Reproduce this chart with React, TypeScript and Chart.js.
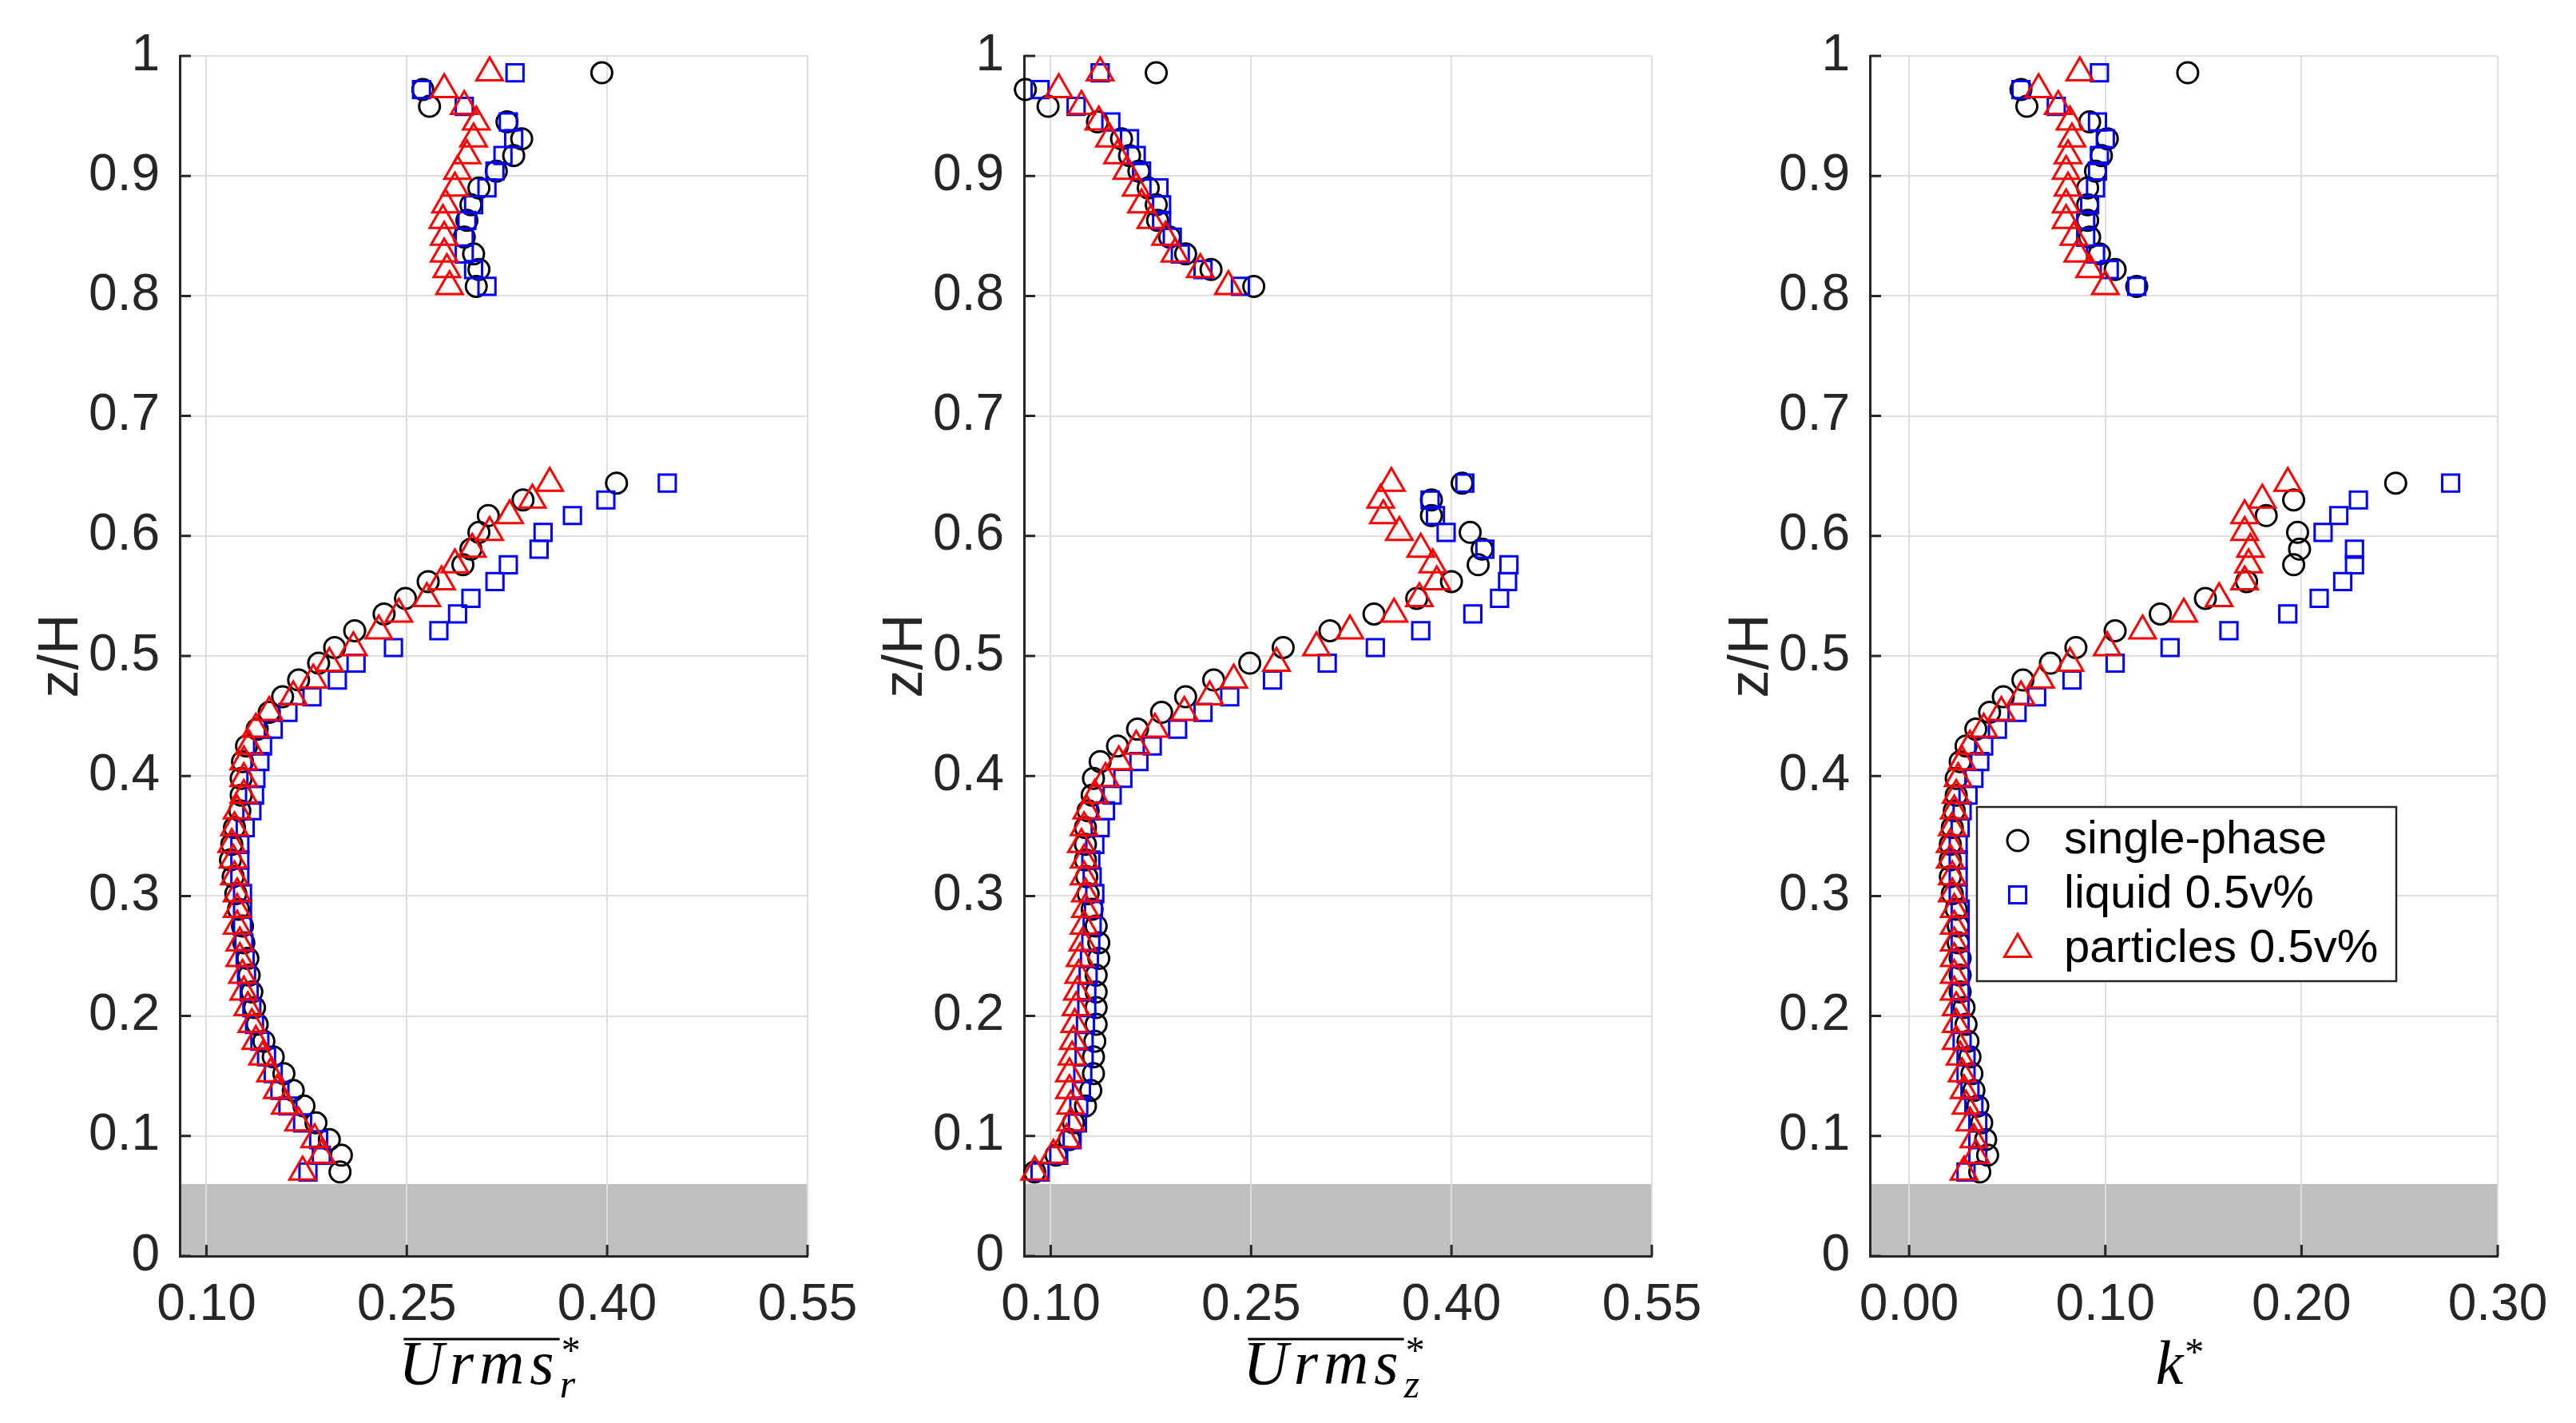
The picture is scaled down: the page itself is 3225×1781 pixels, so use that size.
import { useEffect, useRef } from "react";
import { Chart, registerables } from "chart.js";
import { drawPoint } from "chart.js/helpers";

Chart.register(...registerables);

// measurement heights (z/H), near-wall section and upper section
const zLower = [
  0.070, 0.084, 0.097, 0.111, 0.125, 0.138, 0.152, 0.166, 0.179, 0.193, 0.207,
  0.220, 0.234, 0.248, 0.261, 0.275, 0.289, 0.302, 0.316, 0.330, 0.343, 0.357,
  0.371, 0.384, 0.398, 0.412, 0.425, 0.439, 0.453, 0.466, 0.480, 0.494, 0.507,
  0.521, 0.535, 0.548, 0.562, 0.576, 0.589, 0.603, 0.617, 0.630, 0.644,
];
const zUpper = [
  0.808, 0.822, 0.835, 0.849, 0.863, 0.876, 0.890, 0.904, 0.917, 0.931, 0.945,
  0.958, 0.972, 0.986,
];

// panel 1: radial rms velocity
const urSingleLow = [
  0.200, 0.201, 0.192, 0.182, 0.173, 0.165, 0.158, 0.150, 0.143, 0.138, 0.136,
  0.134, 0.132, 0.131, 0.128, 0.127, 0.124, 0.122, 0.120, 0.118, 0.119, 0.121,
  0.125, 0.126, 0.126, 0.127, 0.130, 0.138, 0.147, 0.157, 0.169, 0.184, 0.196,
  0.211, 0.233, 0.249, 0.266, 0.292, 0.298, 0.304, 0.311, 0.337, 0.407,
];
const urSingleUp = [
  0.302, 0.304, 0.300, 0.293, 0.295, 0.298, 0.304, 0.317, 0.330, 0.336, 0.325,
  0.267, 0.262, 0.396,
];
const urLiquidLow = [
  0.176, 0.186, 0.184, 0.172, 0.161, 0.155, 0.150, 0.145, 0.140, 0.136, 0.134,
  0.132, 0.130, 0.129, 0.128, 0.127, 0.127, 0.127, 0.125, 0.125, 0.125, 0.129,
  0.134, 0.136, 0.137, 0.140, 0.142, 0.150, 0.161, 0.179, 0.198, 0.212, 0.240,
  0.274, 0.288, 0.298, 0.316, 0.326, 0.349, 0.352, 0.374, 0.399, 0.445,
];
const urLiquidUp = [
  0.310, 0.300, 0.293, 0.293, 0.295, 0.300, 0.310, 0.316, 0.322, 0.330, 0.326,
  0.293, 0.261, 0.331,
];
const urPartLow = [
  0.172, 0.186, 0.181, 0.169, 0.159, 0.153, 0.148, 0.142, 0.137, 0.134, 0.131,
  0.128, 0.127, 0.125, 0.125, 0.123, 0.123, 0.123, 0.121, 0.120, 0.119, 0.121,
  0.123, 0.128, 0.128, 0.128, 0.132, 0.137, 0.147, 0.165, 0.180, 0.192, 0.210,
  0.229, 0.244, 0.265, 0.276, 0.286, 0.299, 0.312, 0.327, 0.344, 0.357,
];
const urPartUp = [
  0.282, 0.280, 0.278, 0.278, 0.277, 0.279, 0.286, 0.288, 0.295, 0.300, 0.302,
  0.293, 0.278, 0.312,
];

// panel 2: axial rms velocity
const uzSingleLow = [
  0.088, 0.104, 0.114, 0.117, 0.126, 0.130, 0.132, 0.132, 0.133, 0.134, 0.134,
  0.134, 0.134, 0.136, 0.136, 0.134, 0.131, 0.128, 0.127, 0.126, 0.126, 0.126,
  0.128, 0.131, 0.132, 0.137, 0.150, 0.165, 0.183, 0.201, 0.222, 0.249, 0.274,
  0.309, 0.342, 0.374, 0.400, 0.420, 0.423, 0.414, 0.385, 0.385, 0.408,
];
const uzSingleUp = [
  0.252, 0.220, 0.201, 0.189, 0.180, 0.179, 0.173, 0.166, 0.159, 0.153, 0.135,
  0.098, 0.081, 0.179,
];
const uzLiquidLow = [
  0.092, 0.106, 0.116, 0.120, 0.121, 0.123, 0.124, 0.125, 0.125, 0.126, 0.127,
  0.127, 0.128, 0.129, 0.130, 0.131, 0.132, 0.133, 0.131, 0.130, 0.133, 0.137,
  0.141, 0.146, 0.154, 0.166, 0.176, 0.195, 0.214, 0.234, 0.266, 0.307, 0.343,
  0.377, 0.416, 0.436, 0.442, 0.443, 0.425, 0.396, 0.388, 0.384, 0.410,
];
const uzLiquidUp = [
  0.242, 0.214, 0.197, 0.191, 0.183, 0.183, 0.181, 0.168, 0.164, 0.159, 0.145,
  0.119, 0.092, 0.137,
];
const uzPartLow = [
  0.088, 0.102, 0.112, 0.115, 0.115, 0.114, 0.114, 0.116, 0.117, 0.118, 0.119,
  0.120, 0.121, 0.122, 0.124, 0.125, 0.126, 0.126, 0.125, 0.125, 0.123, 0.125,
  0.127, 0.133, 0.141, 0.151, 0.164, 0.178, 0.200, 0.219, 0.237, 0.269, 0.299,
  0.324, 0.357, 0.376, 0.389, 0.386, 0.377, 0.361, 0.349, 0.347, 0.355,
];
const uzPartUp = [
  0.233, 0.212, 0.193, 0.186, 0.175, 0.168, 0.164, 0.157, 0.150, 0.144, 0.136,
  0.123, 0.106, 0.137,
];

// panel 3: turbulent kinetic energy
const kSingleLow = [
  0.036, 0.040, 0.039, 0.037, 0.035, 0.033, 0.032, 0.031, 0.030, 0.029, 0.028,
  0.026, 0.026, 0.026, 0.025, 0.025, 0.024, 0.022, 0.021, 0.021, 0.021, 0.022,
  0.023, 0.024, 0.024, 0.026, 0.029, 0.034, 0.041, 0.048, 0.058, 0.072, 0.085,
  0.105, 0.128, 0.151, 0.172, 0.196, 0.199, 0.198, 0.182, 0.196, 0.248,
];
const kSingleUp = [
  0.116, 0.105, 0.097, 0.092, 0.091, 0.091, 0.091, 0.095, 0.098, 0.101, 0.092,
  0.060, 0.057, 0.142,
];
const kLiquidLow = [
  0.029, 0.035, 0.035, 0.035, 0.033, 0.031, 0.029, 0.029, 0.027, 0.026, 0.026,
  0.026, 0.026, 0.026, 0.026, 0.026, 0.026, 0.025, 0.025, 0.025, 0.025, 0.026,
  0.027, 0.030, 0.033, 0.036, 0.038, 0.045, 0.055, 0.065, 0.083, 0.105, 0.133,
  0.163, 0.193, 0.209, 0.221, 0.227, 0.227, 0.211, 0.219, 0.229, 0.276,
];
const kLiquidUp = [
  0.116, 0.102, 0.095, 0.090, 0.090, 0.092, 0.095, 0.096, 0.097, 0.100, 0.096,
  0.075, 0.057, 0.097,
];
const kPartLow = [
  0.028, 0.034, 0.033, 0.031, 0.029, 0.028, 0.027, 0.026, 0.024, 0.024, 0.024,
  0.023, 0.023, 0.023, 0.023, 0.023, 0.023, 0.022, 0.022, 0.021, 0.021, 0.022,
  0.023, 0.024, 0.025, 0.027, 0.031, 0.038, 0.047, 0.057, 0.067, 0.082, 0.101,
  0.119, 0.140, 0.158, 0.171, 0.173, 0.174, 0.171, 0.171, 0.180, 0.193,
];
const kPartUp = [
  0.100, 0.092, 0.086, 0.084, 0.080, 0.080, 0.081, 0.080, 0.081, 0.083, 0.082,
  0.076, 0.066, 0.087,
];

const seriesNames = ["single-phase", "liquid 0.5v%", "particles 0.5v%"];
const yTicks = [0, 0.1, 0.2, 0.3, 0.4, 0.5, 0.6, 0.7, 0.8, 0.9, 1];
const urmsTicks = [0.1, 0.25, 0.4, 0.55];
const kTicks = [0, 0.1, 0.2, 0.3];
const wallTop = 0.06;

const SANS = '"Liberation Sans", Arial, Helvetica, sans-serif';
const SERIF = '"Liberation Serif", "Times New Roman", serif';
const INK = "#262626";
const PLOT_TOP = 70;
const PLOT_BOTTOM = 1572;
const AXIS_W = 225;
const PLOT_W = 786;
const PAD_R = 80;
const CANVAS_H = 1781;

const markers = [
  { color: "#000000", style: "circle", radius: 13 },
  { color: "#0000ff", style: "rect", radius: 15 },
  { color: "#ff0000", style: "triangle", radius: 19 },
];

type AxisLabel = { base: string; overline: boolean; sub: string };

type PanelProps = {
  left: number;
  xMin: number;
  xMax: number;
  xTicks: number[];
  digits: number;
  series: { low: number[]; up: number[] }[];
  label: AxisLabel;
  legend?: boolean;
};

function Panel({ left, xMin, xMax, xTicks, digits, series, label, legend }: PanelProps) {
  const canvasRef = useRef<HTMLCanvasElement | null>(null);
  const chartRef = useRef<Chart | null>(null);

  useEffect(() => {
    const canvas = canvasRef.current;
    if (!canvas) return;

    chartRef.current?.destroy();

    const wallPlugin = {
      id: "wall",
      beforeDraw(chart: Chart) {
        const { ctx, chartArea } = chart;
        const y0 = chart.scales.y.getPixelForValue(wallTop);
        ctx.save();
        ctx.fillStyle = "#bfbfbf";
        ctx.fillRect(chartArea.left, y0, chartArea.right - chartArea.left, chartArea.bottom - y0);
        ctx.restore();
      },
    };

    const decorPlugin = {
      id: "decor",
      afterDraw(chart: Chart) {
        const { ctx, chartArea } = chart;
        const xs = chart.scales.x;
        const ys = chart.scales.y;
        ctx.save();
        // inward tick marks
        ctx.strokeStyle = INK;
        ctx.lineWidth = 3;
        ctx.beginPath();
        yTicks.forEach((v) => {
          const py = ys.getPixelForValue(v);
          ctx.moveTo(chartArea.left, py);
          ctx.lineTo(chartArea.left + 14, py);
        });
        xTicks.forEach((v) => {
          const px = xs.getPixelForValue(v);
          ctx.moveTo(px, chartArea.bottom);
          ctx.lineTo(px, chartArea.bottom - 14);
        });
        ctx.stroke();

        // x-axis label drawn as math text
        const cx = (chartArea.left + chartArea.right) / 2;
        const base = chartArea.bottom + 160;
        const c = ctx as any;
        ctx.fillStyle = "#000";
        ctx.textBaseline = "alphabetic";
        ctx.textAlign = "left";
        ctx.font = `italic 78px ${SERIF}`;
        c.letterSpacing = label.overline ? "7px" : "0px";
        const w = ctx.measureText(label.base).width;
        const total = w + 24;
        const x0 = cx - total / 2 - 6;
        ctx.fillText(label.base, x0, base);
        c.letterSpacing = "0px";
        if (label.overline) {
          ctx.strokeStyle = "#000";
          ctx.lineWidth = 3;
          ctx.beginPath();
          ctx.moveTo(x0 + 6, chartArea.bottom + 104);
          ctx.lineTo(x0 + w, chartArea.bottom + 104);
          ctx.stroke();
        }
        ctx.font = `48px ${SERIF}`;
        ctx.fillText("*", x0 + w + 2, label.overline ? base - 26 : base - 24);
        if (label.sub) {
          ctx.font = `italic 50px ${SERIF}`;
          ctx.fillText(label.sub, x0 + w, base + 17);
        }

        // legend box
        if (legend) {
          const bx = chartArea.left + 134;
          const by = chartArea.top + 940;
          const bw = 525;
          const bh = 218;
          ctx.fillStyle = "#ffffff";
          ctx.fillRect(bx, by, bw, bh);
          ctx.strokeStyle = INK;
          ctx.lineWidth = 2.5;
          ctx.strokeRect(bx, by, bw, bh);
          ctx.font = `58px ${SANS}`;
          ctx.textBaseline = "middle";
          seriesNames.forEach((name, i) => {
            const ry = by + 42 + i * 68;
            const m = markers[i];
            ctx.strokeStyle = m.color;
            ctx.fillStyle = "rgba(0,0,0,0)";
            ctx.lineWidth = 3;
            drawPoint(ctx, { pointStyle: m.style as any, radius: m.radius, rotation: 0, borderWidth: 3 }, bx + 51, ry);
            ctx.fillStyle = "#000";
            ctx.fillText(name, bx + 109, ry);
          });
        }
        ctx.restore();
      },
    };

    chartRef.current = new Chart(canvas, {
      type: "scatter",
      data: {
        datasets: series.map((s, i) => ({
          label: seriesNames[i],
          data: zLower
            .map((z, j) => ({ x: s.low[j], y: z }))
            .concat(zUpper.map((z, j) => ({ x: s.up[j], y: z }))),
          showLine: false,
          pointStyle: markers[i].style as any,
          pointRadius: markers[i].radius,
          pointBorderWidth: 3,
          pointBorderColor: markers[i].color,
          pointBackgroundColor: "rgba(0,0,0,0)",
          borderColor: markers[i].color,
          backgroundColor: "rgba(0,0,0,0)",
          clip: false as any,
          order: 2 - i,
        })),
      },
      options: {
        responsive: false,
        animation: false,
        devicePixelRatio: 1,
        events: [],
        layout: { padding: { top: PLOT_TOP, right: PAD_R, left: 0, bottom: 0 } },
        plugins: {
          legend: { display: false },
          tooltip: { enabled: false },
        },
        scales: {
          x: {
            type: "linear",
            min: xMin,
            max: xMax,
            afterBuildTicks: (scale) => {
              scale.ticks = xTicks.map((value) => ({ value }));
            },
            afterFit: (scale: any) => {
              scale.height = CANVAS_H - PLOT_BOTTOM;
              scale.paddingLeft = 0;
              scale.paddingRight = 0;
            },
            grid: { color: "#dedede", lineWidth: 2, drawTicks: false },
            border: { display: true, color: INK, width: 3 },
            ticks: {
              color: INK,
              padding: 24,
              autoSkip: false,
              maxRotation: 0,
              font: { family: SANS, size: 64 },
              callback: (v) => Number(v).toFixed(digits),
            },
          },
          y: {
            type: "linear",
            min: 0,
            max: 1,
            afterBuildTicks: (scale) => {
              scale.ticks = yTicks.map((value) => ({ value }));
            },
            afterFit: (scale: any) => {
              scale.width = AXIS_W;
              scale.paddingTop = 0;
              scale.paddingBottom = 0;
            },
            grid: { color: "#dedede", lineWidth: 2, drawTicks: false },
            border: { display: true, color: INK, width: 3 },
            title: {
              display: true,
              text: "z/H",
              color: INK,
              font: { family: SANS, size: 70 },
              padding: { top: 36, bottom: 0 },
            },
            ticks: {
              color: INK,
              padding: 25,
              font: { family: SANS, size: 64 },
              callback: (v) => {
                const n = Number(v);
                return n === 0 ? "0" : n === 1 ? "1" : n.toFixed(1);
              },
            },
          },
        },
      },
      plugins: [wallPlugin, decorPlugin],
    });

    return () => {
      chartRef.current?.destroy();
      chartRef.current = null;
    };
  }, [left, xMin, xMax, xTicks, digits, series, label, legend]);

  return (
    <div style={{ position: "absolute", left: left - AXIS_W, top: 0 }}>
      <canvas ref={canvasRef} width={AXIS_W + PLOT_W + PAD_R} height={CANVAS_H} />
    </div>
  );
}

const urSeries = [
  { low: urSingleLow, up: urSingleUp },
  { low: urLiquidLow, up: urLiquidUp },
  { low: urPartLow, up: urPartUp },
];
const uzSeries = [
  { low: uzSingleLow, up: uzSingleUp },
  { low: uzLiquidLow, up: uzLiquidUp },
  { low: uzPartLow, up: uzPartUp },
];
const kSeries = [
  { low: kSingleLow, up: kSingleUp },
  { low: kLiquidLow, up: kLiquidUp },
  { low: kPartLow, up: kPartUp },
];
const urLabel = { base: "Urms", overline: true, sub: "r" };
const uzLabel = { base: "Urms", overline: true, sub: "z" };
const kLabel = { base: "k", overline: false, sub: "" };

export default function App() {
  return (
    <div
      style={{
        position: "fixed",
        left: 0,
        top: 0,
        width: 3225,
        height: CANVAS_H,
        background: "#ffffff",
        overflow: "hidden",
      }}
    >
      <Panel left={225} xMin={0.08} xMax={0.55} xTicks={urmsTicks} digits={2} series={urSeries} label={urLabel} />
      <Panel left={1282} xMin={0.08} xMax={0.55} xTicks={urmsTicks} digits={2} series={uzSeries} label={uzLabel} />
      <Panel left={2341} xMin={-0.02} xMax={0.3} xTicks={kTicks} digits={2} series={kSeries} label={kLabel} legend />
    </div>
  );
}
